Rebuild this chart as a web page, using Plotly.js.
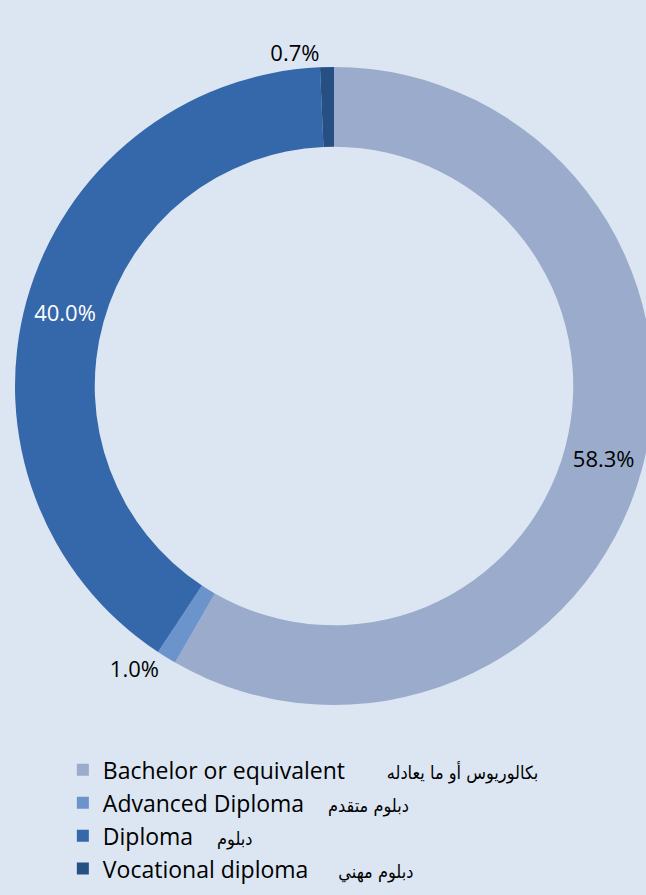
<!DOCTYPE html>
<html>
<head>
<meta charset="utf-8">
<script src="https://cdn.plot.ly/plotly-3.0.1.min.js"></script>
<style>
html,body{margin:0;padding:0;overflow:hidden;background:#dce6f2;}
#chart{width:653px;height:895px;}
</style>
</head>
<body>
<div id="chart"></div>
<script>
const englishNames = ["Bachelor or equivalent", "Advanced Diploma", "Diploma", "Vocational diploma"];
const arabicNames = ["بكالوريوس أو ما يعادله", "دبلوم متقدم", "دبلوم", "دبلوم مهني"];
const gaps = [7, 4, 4, 5];
const values = [58.3, 1.0, 40.0, 0.7];
const labelsText = ["58.3%", "1.0%", "40.0%", "0.7%"];
const colors = ["#9aabcb", "#6b93cc", "#3468ab", "#265083"];

const categories = englishNames.map((e, i) =>
  e + "\u00a0".repeat(gaps[i]) +
  '<span style="font-family:DejaVu Sans Condensed, DejaVu Sans;font-size:18px">' + arabicNames[i] + '</span>');

const trace = {
  type: "pie",
  labels: categories,
  values: values,
  text: labelsText,
  textinfo: "text",
  hoverinfo: "label+text",
  sort: false,
  direction: "clockwise",
  rotation: 0,
  hole: 0.75,
  marker: {colors: colors, line: {width: 0}},
  textposition: ["inside", "outside", "inside", "outside"],
  insidetextorientation: "horizontal",
  insidetextfont: {family: "Open Sans, DejaVu Sans", size: 22, color: ["#000000", "#000000", "#ffffff", "#000000"]},
  outsidetextfont: {family: "Open Sans, DejaVu Sans", size: 22, color: "#000000"},
  domain: {x: [0, 1], y: [0, 1]}
};

const layout = {
  width: 653,
  height: 895,
  margin: {l: 15, r: 0, t: 67, b: 190},
  paper_bgcolor: "#dce6f2",
  plot_bgcolor: "#dce6f2",
  showlegend: true,
  legend: {
    x: 0.075, xanchor: "left",
    y: -0.068, yanchor: "top",
    font: {family: "Open Sans, DejaVu Sans", size: 23, color: "#000000"},
    bgcolor: "rgba(0,0,0,0)",
    tracegroupgap: 0
  }
};

Plotly.newPlot("chart", [trace], layout, {displayModeBar: false, staticPlot: true});
</script>
</body>
</html>
